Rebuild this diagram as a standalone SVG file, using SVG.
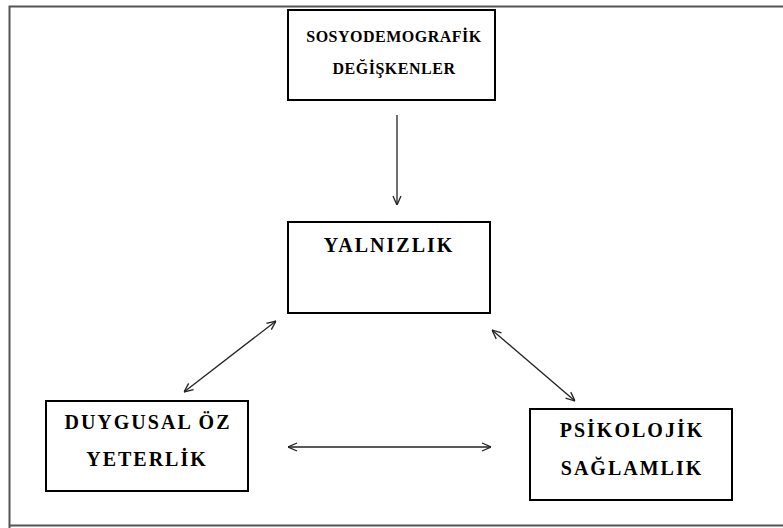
<svg xmlns="http://www.w3.org/2000/svg" width="783" height="528" viewBox="0 0 783 528">
<defs>
<style>
.box{fill:#fff;stroke:#000;stroke-width:2}
.t{font-family:"Liberation Serif","Times New Roman",serif;font-weight:bold;fill:#000;text-anchor:middle}
.s{font-size:16px;letter-spacing:0.5px}
.b{font-size:20px;letter-spacing:2px}
.c{stroke:#222;stroke-width:1.3;fill:none}
</style>
<marker id="ah" viewBox="0 0 10 10" refX="10" refY="5" markerWidth="10" markerHeight="10" markerUnits="userSpaceOnUse" orient="auto-start-reverse">
<path d="M1,1 L10,5 L1,9" fill="none" stroke="#222" stroke-width="1.3"/>
</marker>
</defs>
<rect width="783" height="528" fill="#fff"/>
<path d="M9.5,528 V6.5 H783 M9.5,525.5 H783" fill="none" stroke="#555" stroke-width="2"/>
<g id="sosyodemografik">
<rect class="box" x="288" y="10" width="207" height="90"/>
<text class="t s" x="394" y="42">SOSYODEMOGRAFİK</text>
<text class="t s" x="394" y="74">DEĞİŞKENLER</text>
</g>
<g id="yalnizlik">
<rect class="box" x="288" y="222" width="202" height="91"/>
<text class="t b" x="389" y="252">YALNIZLIK</text>
</g>
<g id="duygusal">
<rect class="box" x="46" y="401" width="202" height="90"/>
<text class="t b" x="148" y="429">DUYGUSAL ÖZ</text>
<text class="t b" x="147" y="466">YETERLİK</text>
</g>
<g id="psikolojik">
<rect class="box" x="530" y="409" width="202" height="91"/>
<text class="t b" x="632" y="437">PSİKOLOJİK</text>
<text class="t b" x="632" y="475">SAĞLAMLIK</text>
</g>
<g id="connectors">
<line class="c" x1="397" y1="115" x2="397" y2="205" marker-end="url(#ah)"/>
<line class="c" x1="276" y1="321" x2="184" y2="392" marker-start="url(#ah)" marker-end="url(#ah)"/>
<line class="c" x1="492" y1="330" x2="575" y2="401" marker-start="url(#ah)" marker-end="url(#ah)"/>
<line class="c" x1="288" y1="447" x2="491" y2="447" marker-start="url(#ah)" marker-end="url(#ah)"/>
</g>
</svg>
